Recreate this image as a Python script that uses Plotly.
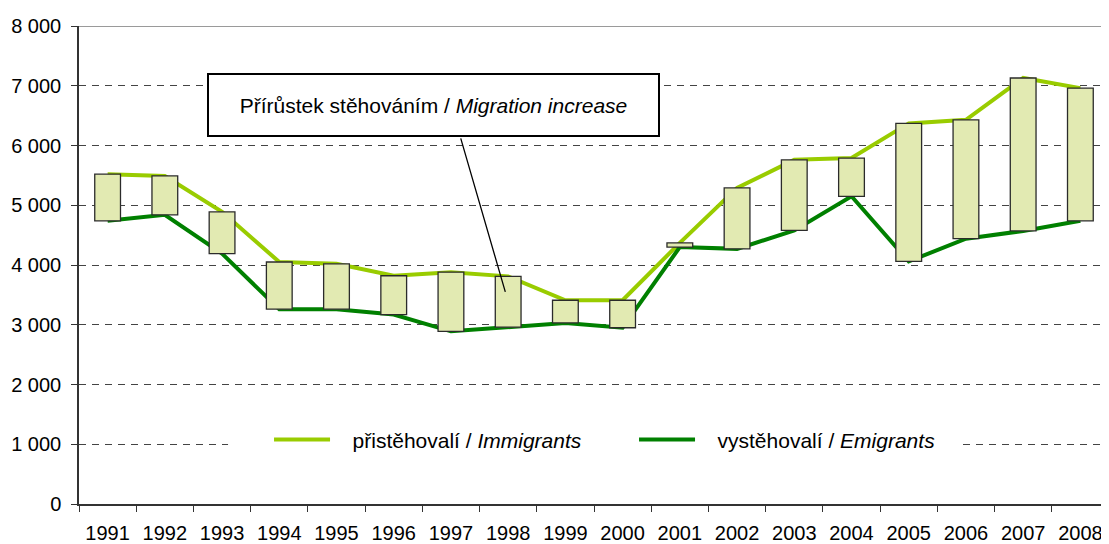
import plotly.graph_objects as go

years = [str(y) for y in range(1991, 2009)]
immigrants = [5520, 5490, 4890, 4050, 4020, 3820, 3880, 3810, 3410, 3410,
              4370, 5290, 5760, 5790, 6370, 6430, 7130, 6960]
emigrants = [4740, 4840, 4190, 3260, 3260, 3170, 2890, 2960, 3030, 2950,
             4300, 4270, 4580, 5150, 4060, 4440, 4570, 4740]
y_ticks = [0, 1000, 2000, 3000, 4000, 5000, 6000, 7000, 8000]
y_ticktext = ["0", "1 000", "2 000", "3 000", "4 000", "5 000", "6 000", "7 000", "8 000"]

NB = "\u00a0\u00a0\u00a0"
name_imm = NB + "přistěhovalí / <i>Immigrants</i>"
name_emi = NB + "vystěhovalí / <i>Emigrants</i>"
box_label = "Přírůstek stěhováním / <i>Migration increase</i>"

FONT = "Liberation Sans, Arial, sans-serif"

fig = go.Figure()
fig.add_trace(go.Scatter(x=years, y=immigrants, mode="lines", name=name_imm,
                         line=dict(color="#99CC00", width=4)))
fig.add_trace(go.Scatter(x=years, y=emigrants, mode="lines", name=name_emi,
                         line=dict(color="#008000", width=4)))

base = [min(a, b) for a, b in zip(immigrants, emigrants)]
height = [abs(a - b) for a, b in zip(immigrants, emigrants)]
fig.add_trace(go.Bar(x=years, y=height, base=base, width=0.45, yaxis="y2",
                     showlegend=False, hoverinfo="skip",
                     marker=dict(color="#E2EAB2", line=dict(color="#2b2b2b", width=1.3))))

# page body has an 8px margin, so the figure is sized to end at the window edge
fig.update_layout(
    width=1101, height=536,
    margin=dict(l=71, r=0, t=18, b=40),
    paper_bgcolor="white", plot_bgcolor="white",
    font=dict(family=FONT, size=20, color="black"),
    barmode="overlay",
    xaxis=dict(type="category", range=[-0.5, 17.5], autorange=False,
               tickson="boundaries", ticks="outside", ticklen=6, tickangle=0,
               tickcolor="#333", showline=True, linecolor="#333", linewidth=1.5,
               showgrid=False, ticklabelstandoff=10, tickfont=dict(size=20),
               automargin=False),
    yaxis=dict(range=[0, 8000], tickvals=y_ticks, ticktext=y_ticktext,
               ticks="outside", ticklen=6, tickcolor="#333",
               showline=True, linecolor="#333", linewidth=1.5,
               showgrid=True, gridcolor="#444", gridwidth=1, griddash="7px,6px",
               ticklabelstandoff=6, zeroline=False, tickfont=dict(size=20),
               automargin=False),
    yaxis2=dict(range=[0, 8000], overlaying="y", visible=False),
    legend=dict(orientation="h", x=0.1845, xanchor="left", y=0.134, yanchor="middle",
                bgcolor="rgba(0,0,0,0)", font=dict(size=21), entrywidth=294, itemwidth=56,
                traceorder="normal"),
    shapes=[
        dict(type="line", xref="paper", yref="y", x0=0, x1=1, y0=8000, y1=8000,
             line=dict(color="#9a9a9a", width=2)),
        dict(type="rect", xref="paper", yref="paper", x0=0.1447, x1=0.857,
             y0=0.10, y1=0.165, fillcolor="white", line=dict(width=0), layer="above"),
    ],
    annotations=[
        dict(text=box_label, xref="paper", yref="paper", x=0.3442, y=0.8347,
             xanchor="center", yanchor="middle", showarrow=False,
             width=449, height=60, bordercolor="black", borderwidth=2, borderpad=0,
             bgcolor="white", font=dict(size=21, family=FONT)),
        dict(text="", x=6.95, y=3550, xref="x", yref="y", showarrow=True,
             arrowhead=0, arrowwidth=1.3, arrowcolor="black", ax=-45, ay=-155),
    ],
)

fig.write_html("out.html")
